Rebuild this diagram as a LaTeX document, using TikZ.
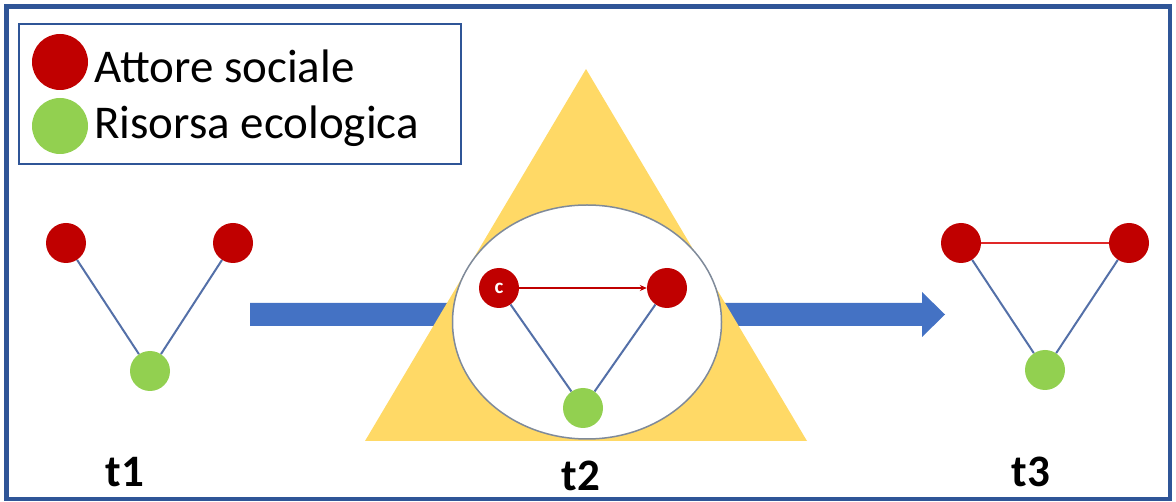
\documentclass[tikz,border=0pt]{standalone}
\usepackage{fontspec}
\setmainfont{Carlito}
\usetikzlibrary{shapes.geometric,arrows.meta}
\definecolor{frameblue}{HTML}{2F5597}
\definecolor{arrowblue}{HTML}{4472C4}
\definecolor{edgeblue}{HTML}{5470A8}
\definecolor{actorred}{HTML}{C00000}
\definecolor{linkred}{HTML}{E02828}
\definecolor{resgreen}{HTML}{92D050}
\definecolor{triyellow}{HTML}{FFD966}
\definecolor{lensgray}{HTML}{7F8A9A}
\tikzset{
  actor/.style={circle, fill=actorred, minimum size=40pt, inner sep=0pt},
  resource/.style={circle, fill=resgreen, minimum size=40pt, inner sep=0pt},
  legdot/.style={circle, minimum size=56pt, inner sep=0pt},
  edge/.style={draw=edgeblue, line width=2pt},
  redlink/.style={draw=linkred, line width=1.8pt},
  leglabel/.style={anchor=base west, inner sep=0pt, font=\fontsize{47}{56}\selectfont},
  tlabel/.style={anchor=base, inner sep=0pt, font=\fontsize{45}{54}\selectfont\bfseries}
}
\begin{document}
\begin{tikzpicture}[x=1pt,y=-1pt]
\useasboundingbox (0,0) rectangle (1176,502);
% outer frame
\draw[frameblue, line width=4.5pt] (6.5,6.5) rectangle (1170,499);
% legend
\node (legend) [draw=frameblue, line width=2pt, minimum width=442pt, minimum height=140pt, anchor=north west, inner sep=0pt] at (18,23) {};
\node (legA) [legdot, fill=actorred] at (60,62) {};
\node (legR) [legdot, fill=resgreen] at (60,126) {};
\node (legAt) [leglabel] at (94,83) {Attore sociale};
\node (legRt) [leglabel] at (94,139) {Risorsa ecologica};
% big arrow
\fill[arrowblue] (250,303) -- (922,303) -- (922,292) -- (945,314.5) -- (922,337) -- (922,326) -- (250,326) -- cycle;
% triangle
\fill[triyellow] (586,69) -- (807,441) -- (365,441) -- cycle;
% lens
\node (lens) [ellipse, draw=lensgray, line width=1.5pt, fill=white, minimum width=269pt, minimum height=234pt, inner sep=0pt] at (587,322) {};
% t1
\node (a1) [actor] at (66,243) {};
\node (b1) [actor] at (233,243) {};
\node (g1) [resource] at (150,371) {};
\draw[edge] (a1) -- (g1);
\draw[edge] (b1) -- (g1);
\node (t1) [tlabel] at (125,486) {t1};
% t2
\node (c2) [actor, text=white, font=\fontsize{21}{24}\selectfont\bfseries] at (499,288) {c};
\node (b2) [actor] at (667,288) {};
\node (g2) [resource] at (583,408) {};
\draw[edge] (c2) -- (g2);
\draw[edge] (b2) -- (g2);
\draw[draw=actorred, line width=1.8pt, -{Stealth[length=7pt,width=6pt]}] (c2) -- (b2);
\node (t2) [tlabel] at (581,491) {t2};
% t3
\node (a3) [actor] at (961,243) {};
\node (b3) [actor] at (1129,243) {};
\node (g3) [resource] at (1045,370) {};
\draw[edge] (a3) -- (g3);
\draw[edge] (b3) -- (g3);
\draw[redlink] (a3) -- (b3);
\node (t3) [tlabel] at (1031,486) {t3};
\end{tikzpicture}
\end{document}
